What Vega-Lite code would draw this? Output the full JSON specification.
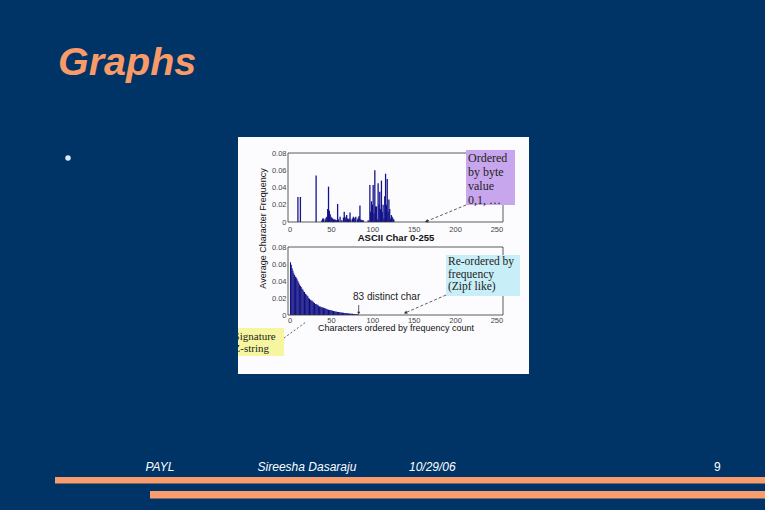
{
  "$schema": "https://vega.github.io/schema/vega-lite/v6.json",
  "background": "#003366",
  "padding": {"left": 55, "top": 42, "right": 0, "bottom": 11},
  "title": {"text": "Graphs", "anchor": "start", "frame": "group", "font": "Liberation Sans", "fontSize": 39.5, "fontWeight": "bold", "fontStyle": "italic", "color": "#F89B68", "offset": 54, "dx": 3},
  "spacing": 81,
  "datasets": {
    "bytes": [
      {"byte": 10, "freq": 0.029}, {"byte": 13, "freq": 0.029}, {"byte": 32, "freq": 0.054},
      {"byte": 39, "freq": 0.002}, {"byte": 40, "freq": 0.004}, {"byte": 41, "freq": 0.004}, {"byte": 43, "freq": 0.003},
      {"byte": 44, "freq": 0.005}, {"byte": 45, "freq": 0.006}, {"byte": 46, "freq": 0.015}, {"byte": 47, "freq": 0.041},
      {"byte": 48, "freq": 0.013}, {"byte": 49, "freq": 0.009}, {"byte": 50, "freq": 0.006}, {"byte": 51, "freq": 0.005},
      {"byte": 52, "freq": 0.004}, {"byte": 53, "freq": 0.003}, {"byte": 54, "freq": 0.003}, {"byte": 55, "freq": 0.003},
      {"byte": 56, "freq": 0.002}, {"byte": 57, "freq": 0.002}, {"byte": 58, "freq": 0.021}, {"byte": 59, "freq": 0.003},
      {"byte": 61, "freq": 0.006}, {"byte": 63, "freq": 0.002}, {"byte": 65, "freq": 0.005}, {"byte": 66, "freq": 0.012},
      {"byte": 67, "freq": 0.006}, {"byte": 68, "freq": 0.004}, {"byte": 69, "freq": 0.008}, {"byte": 70, "freq": 0.004},
      {"byte": 71, "freq": 0.003}, {"byte": 72, "freq": 0.004}, {"byte": 73, "freq": 0.011}, {"byte": 74, "freq": 0.003},
      {"byte": 76, "freq": 0.004}, {"byte": 77, "freq": 0.006}, {"byte": 78, "freq": 0.004}, {"byte": 79, "freq": 0.005},
      {"byte": 80, "freq": 0.006}, {"byte": 82, "freq": 0.003}, {"byte": 83, "freq": 0.005}, {"byte": 84, "freq": 0.007},
      {"byte": 85, "freq": 0.019}, {"byte": 86, "freq": 0.003}, {"byte": 87, "freq": 0.002}, {"byte": 88, "freq": 0.002},
      {"byte": 89, "freq": 0.002}, {"byte": 95, "freq": 0.002},
      {"byte": 97, "freq": 0.043}, {"byte": 98, "freq": 0.012}, {"byte": 99, "freq": 0.024}, {"byte": 100, "freq": 0.02},
      {"byte": 101, "freq": 0.043}, {"byte": 102, "freq": 0.01}, {"byte": 103, "freq": 0.06}, {"byte": 104, "freq": 0.018},
      {"byte": 105, "freq": 0.018}, {"byte": 106, "freq": 0.003}, {"byte": 107, "freq": 0.045}, {"byte": 108, "freq": 0.02},
      {"byte": 109, "freq": 0.035}, {"byte": 110, "freq": 0.015}, {"byte": 111, "freq": 0.048}, {"byte": 112, "freq": 0.012},
      {"byte": 113, "freq": 0.02}, {"byte": 114, "freq": 0.004}, {"byte": 115, "freq": 0.03}, {"byte": 116, "freq": 0.056},
      {"byte": 117, "freq": 0.02}, {"byte": 118, "freq": 0.05}, {"byte": 119, "freq": 0.012}, {"byte": 120, "freq": 0.026},
      {"byte": 121, "freq": 0.015}, {"byte": 122, "freq": 0.004}, {"byte": 123, "freq": 0.008}, {"byte": 124, "freq": 0.006},
      {"byte": 125, "freq": 0.004}, {"byte": 126, "freq": 0.003}
    ],
    "zipf": [
      {"rank": 1, "freq": 0.062}, {"rank": 2, "freq": 0.059}, {"rank": 3, "freq": 0.055}, {"rank": 4, "freq": 0.052},
      {"rank": 5, "freq": 0.049}, {"rank": 6, "freq": 0.047}, {"rank": 7, "freq": 0.045}, {"rank": 8, "freq": 0.044},
      {"rank": 9, "freq": 0.042}, {"rank": 10, "freq": 0.04}, {"rank": 11, "freq": 0.038}, {"rank": 12, "freq": 0.036},
      {"rank": 13, "freq": 0.034}, {"rank": 14, "freq": 0.033}, {"rank": 15, "freq": 0.031}, {"rank": 16, "freq": 0.03},
      {"rank": 17, "freq": 0.028}, {"rank": 18, "freq": 0.027}, {"rank": 19, "freq": 0.025}, {"rank": 20, "freq": 0.024},
      {"rank": 21, "freq": 0.023}, {"rank": 22, "freq": 0.022}, {"rank": 23, "freq": 0.02}, {"rank": 24, "freq": 0.019},
      {"rank": 25, "freq": 0.018}, {"rank": 26, "freq": 0.017}, {"rank": 27, "freq": 0.017}, {"rank": 28, "freq": 0.016},
      {"rank": 29, "freq": 0.015}, {"rank": 30, "freq": 0.014}, {"rank": 31, "freq": 0.013}, {"rank": 32, "freq": 0.013},
      {"rank": 33, "freq": 0.012}, {"rank": 34, "freq": 0.012}, {"rank": 35, "freq": 0.011}, {"rank": 36, "freq": 0.01},
      {"rank": 37, "freq": 0.01}, {"rank": 38, "freq": 0.0095}, {"rank": 39, "freq": 0.009}, {"rank": 40, "freq": 0.0088},
      {"rank": 41, "freq": 0.0085}, {"rank": 42, "freq": 0.008}, {"rank": 43, "freq": 0.0078}, {"rank": 44, "freq": 0.0074},
      {"rank": 45, "freq": 0.007}, {"rank": 46, "freq": 0.0066}, {"rank": 47, "freq": 0.0063}, {"rank": 48, "freq": 0.006},
      {"rank": 49, "freq": 0.0058}, {"rank": 50, "freq": 0.0055}, {"rank": 51, "freq": 0.0053}, {"rank": 52, "freq": 0.005},
      {"rank": 53, "freq": 0.0047}, {"rank": 54, "freq": 0.0045}, {"rank": 55, "freq": 0.0042}, {"rank": 56, "freq": 0.004},
      {"rank": 57, "freq": 0.0038}, {"rank": 58, "freq": 0.0036}, {"rank": 59, "freq": 0.0035}, {"rank": 60, "freq": 0.0033},
      {"rank": 61, "freq": 0.0031}, {"rank": 62, "freq": 0.003}, {"rank": 63, "freq": 0.0028}, {"rank": 64, "freq": 0.0027},
      {"rank": 65, "freq": 0.0026}, {"rank": 66, "freq": 0.0025}, {"rank": 67, "freq": 0.0024}, {"rank": 68, "freq": 0.0023},
      {"rank": 69, "freq": 0.0022}, {"rank": 70, "freq": 0.002}, {"rank": 71, "freq": 0.0019}, {"rank": 72, "freq": 0.0018},
      {"rank": 73, "freq": 0.0017}, {"rank": 74, "freq": 0.0016}, {"rank": 75, "freq": 0.0015}, {"rank": 76, "freq": 0.0014},
      {"rank": 77, "freq": 0.0013}, {"rank": 78, "freq": 0.0012}, {"rank": 79, "freq": 0.0011}, {"rank": 80, "freq": 0.001},
      {"rank": 81, "freq": 0.0009}, {"rank": 82, "freq": 0.0008}, {"rank": 83, "freq": 0.0007}
    ],
    "one": [{}]
  },
  "vconcat": [
    {
      "bounds": "flush",
      "spacing": 157,
      "hconcat": [
        {
          "width": 26,
          "height": 42,
          "data": {"name": "one"},
          "mark": {"type": "circle", "size": 30, "color": "#DCEBFA", "opacity": 1},
          "encoding": {}
        },
        {
          "width": 291,
          "height": 237,
          "view": {"fill": "#FCFCFF", "stroke": null},
          "resolve": {"scale": {"y": "independent"}, "axis": {"x": "independent", "y": "independent"}},
          "layer": [
            {
              "data": {"name": "bytes"},
              "mark": {"type": "bar", "width": 1.3, "color": "#14148A"},
              "encoding": {
                "x": {"field": "byte", "type": "quantitative",
                  "scale": {"domain": [-2, 258], "range": [50, 265], "nice": false, "zero": false, "padding": 0},
                  "axis": {"orient": "bottom", "offset": -152, "values": [0, 50, 100, 150, 200, 250], "labelPadding": 3, "title": "ASCII Char 0-255", "titleFontSize": 9.5, "titleFontWeight": "bold", "titlePadding": 0}},
                "y": {"field": "freq", "type": "quantitative",
                  "scale": {"domain": [0, 0.08], "range": [85, 16], "nice": false, "padding": 0},
                  "axis": {"orient": "left", "offset": -50, "values": [0, 0.02, 0.04, 0.06, 0.08], "format": "~g", "labelPadding": 2,
                    "title": "Average Character Frequency", "titleX": -26, "titleY": 91, "titleAngle": -90, "titleAlign": "center", "titleBaseline": "middle", "titleFontSize": 9, "titleFontWeight": "normal"}}
              }
            },
            {
              "data": {"name": "one"},
              "mark": {"type": "rect", "filled": false, "color": "#333333", "strokeWidth": 0.8},
              "encoding": {"x": {"datum": -2, "axis": null}, "x2": {"datum": 258},
                "y": {"datum": 0, "scale": {"domain": [0, 0.08], "range": [85, 16], "nice": false}, "axis": null}, "y2": {"datum": 0.08}}
            },
            {
              "data": {"name": "one"},
              "mark": {"type": "rect", "color": "#C8A6EE"},
              "encoding": {"x": {"datum": 213.3, "axis": null}, "x2": {"datum": 272.5},
                "y": {"datum": 0.0835, "scale": {"domain": [0, 0.08], "range": [85, 16], "nice": false}, "axis": null}, "y2": {"datum": 0.0197}}
            },
            {
              "data": {"name": "one"},
              "mark": {"type": "text", "text": ["Ordered", "by byte", "value", "0,1, …"], "align": "left", "baseline": "middle", "font": "Liberation Serif", "fontSize": 12, "lineHeight": 14, "color": "#222222"},
              "encoding": {"x": {"datum": 215.7, "axis": null},
                "y": {"datum": 0.0742, "scale": {"domain": [0, 0.08], "range": [85, 16], "nice": false}, "axis": null}}
            },
            {
              "data": {"name": "one"},
              "mark": {"type": "rule", "strokeDash": [3, 2], "color": "#333333", "strokeWidth": 0.8},
              "encoding": {"x": {"datum": 213.3, "axis": null}, "x2": {"datum": 165.5},
                "y": {"datum": 0.0197, "scale": {"domain": [0, 0.08], "range": [85, 16], "nice": false}, "axis": null}, "y2": {"datum": 0.0008}}
            },
            {
              "data": {"name": "one"},
              "mark": {"type": "point", "shape": "triangle-up", "angle": 247, "size": 14, "filled": true, "color": "#333333", "opacity": 1},
              "encoding": {"x": {"datum": 165.5, "axis": null},
                "y": {"datum": 0.0008, "scale": {"domain": [0, 0.08], "range": [85, 16], "nice": false}, "axis": null}}
            },
            {
              "data": {"name": "zipf"},
              "mark": {"type": "bar", "width": 1, "color": "#0C0C80"},
              "encoding": {
                "x": {"field": "rank", "type": "quantitative",
                  "scale": {"domain": [-2, 258], "range": [50, 265], "nice": false, "zero": false, "padding": 0},
                  "axis": {"orient": "bottom", "offset": -59, "values": [0, 50, 100, 150, 200, 250], "labelPadding": 1, "title": "Characters ordered by frequency count", "titleFontSize": 9, "titleFontWeight": "normal", "titlePadding": 0}},
                "y": {"field": "freq", "type": "quantitative",
                  "scale": {"domain": [0, 0.08], "range": [178, 110], "nice": false, "padding": 0},
                  "axis": {"orient": "left", "offset": -50, "values": [0, 0.02, 0.04, 0.06, 0.08], "format": "~g", "labelPadding": 2, "title": null}}
              }
            },
            {
              "data": {"name": "one"},
              "mark": {"type": "rect", "filled": false, "color": "#333333", "strokeWidth": 0.8},
              "encoding": {"x": {"datum": -2, "axis": null}, "x2": {"datum": 258},
                "y": {"datum": 0, "scale": {"domain": [0, 0.08], "range": [178, 110], "nice": false}, "axis": null}, "y2": {"datum": 0.08}}
            },
            {
              "data": {"name": "one"},
              "mark": {"type": "rect", "color": "#C8EEF8"},
              "encoding": {"x": {"datum": 189.1, "axis": null}, "x2": {"datum": 278.6},
                "y": {"datum": 0.0706, "scale": {"domain": [0, 0.08], "range": [178, 110], "nice": false}, "axis": null}, "y2": {"datum": 0.0224}}
            },
            {
              "data": {"name": "one"},
              "mark": {"type": "text", "text": ["Re-ordered by", "frequency", "(Zipf like)"], "align": "left", "baseline": "middle", "font": "Liberation Serif", "fontSize": 11.5, "lineHeight": 12.5, "color": "#222222"},
              "encoding": {"x": {"datum": 191.5, "axis": null},
                "y": {"datum": 0.0622, "scale": {"domain": [0, 0.08], "range": [178, 110], "nice": false}, "axis": null}}
            },
            {
              "data": {"name": "one"},
              "mark": {"type": "rule", "strokeDash": [3, 2], "color": "#333333", "strokeWidth": 0.8},
              "encoding": {"x": {"datum": 189.1, "axis": null}, "x2": {"datum": 140},
                "y": {"datum": 0.0235, "scale": {"domain": [0, 0.08], "range": [178, 110], "nice": false}, "axis": null}, "y2": {"datum": 0.0026}}
            },
            {
              "data": {"name": "one"},
              "mark": {"type": "point", "shape": "triangle-up", "angle": 246, "size": 14, "filled": true, "color": "#333333", "opacity": 1},
              "encoding": {"x": {"datum": 140, "axis": null},
                "y": {"datum": 0.0026, "scale": {"domain": [0, 0.08], "range": [178, 110], "nice": false}, "axis": null}}
            },
            {
              "data": {"name": "one"},
              "mark": {"type": "text", "text": "83  distinct char", "align": "left", "baseline": "middle", "font": "Liberation Sans", "fontSize": 10, "color": "#222222"},
              "encoding": {"x": {"datum": 76.6, "axis": null},
                "y": {"datum": 0.0208, "scale": {"domain": [0, 0.08], "range": [178, 110], "nice": false}, "axis": null}}
            },
            {
              "data": {"name": "one"},
              "mark": {"type": "rule", "color": "#333333", "strokeWidth": 0.8},
              "encoding": {"x": {"datum": 83.5, "axis": null},
                "y": {"datum": 0.0118, "scale": {"domain": [0, 0.08], "range": [178, 110], "nice": false}, "axis": null}, "y2": {"datum": 0.0025}}
            },
            {
              "data": {"name": "one"},
              "mark": {"type": "point", "shape": "triangle-down", "size": 10, "filled": true, "color": "#333333", "opacity": 1},
              "encoding": {"x": {"datum": 83.5, "axis": null},
                "y": {"datum": 0.0022, "scale": {"domain": [0, 0.08], "range": [178, 110], "nice": false}, "axis": null}}
            },
            {
              "data": {"name": "one"},
              "mark": {"type": "rect", "color": "#F6F6A0", "clip": true},
              "encoding": {"x": {"datum": -72, "axis": null}, "x2": {"datum": -6.8},
                "y": {"datum": -0.0153, "scale": {"domain": [0, 0.08], "range": [178, 110], "nice": false}, "axis": null}, "y2": {"datum": -0.0482}}
            },
            {
              "data": {"name": "one"},
              "mark": {"type": "text", "text": ["Signature", "Z-string"], "align": "left", "baseline": "middle", "font": "Liberation Serif", "fontSize": 11, "lineHeight": 12, "color": "#222222", "clip": true},
              "encoding": {"x": {"datum": -67.8, "axis": null},
                "y": {"datum": -0.0253, "scale": {"domain": [0, 0.08], "range": [178, 110], "nice": false}, "axis": null}}
            },
            {
              "data": {"name": "one"},
              "mark": {"type": "rule", "strokeDash": [2, 2], "color": "#333333", "strokeWidth": 0.8},
              "encoding": {"x": {"datum": -6.8, "axis": null}, "x2": {"datum": 19.8},
                "y": {"datum": -0.0271, "scale": {"domain": [0, 0.08], "range": [178, 110], "nice": false}, "axis": null}, "y2": {"datum": -0.0082}}
            }
          ]
        }
      ]
    },
    {
      "width": 710,
      "height": 44,
      "data": {"name": "one"},
      "layer": [
        {
          "mark": {"type": "text", "text": "PAYL", "align": "left", "baseline": "middle", "font": "Liberation Sans", "fontSize": 12, "fontStyle": "italic", "color": "#FFFFFF"},
          "encoding": {
            "x": {"datum": 90.5, "scale": {"domain": [0, 710], "nice": false}, "axis": null},
            "y": {"datum": 11.5, "scale": {"domain": [0, 44], "range": [0, 44], "nice": false}, "axis": null}
          }
        },
        {
          "mark": {"type": "text", "text": "Sireesha Dasaraju", "align": "left", "baseline": "middle", "font": "Liberation Sans", "fontSize": 12, "fontStyle": "italic", "color": "#FFFFFF"},
          "encoding": {"x": {"datum": 202.6, "axis": null}, "y": {"datum": 11.5, "axis": null}}
        },
        {
          "mark": {"type": "text", "text": "10/29/06", "align": "left", "baseline": "middle", "font": "Liberation Sans", "fontSize": 12, "fontStyle": "italic", "color": "#FFFFFF"},
          "encoding": {"x": {"datum": 354, "axis": null}, "y": {"datum": 11.5, "axis": null}}
        },
        {
          "mark": {"type": "text", "text": "9", "align": "left", "baseline": "middle", "font": "Liberation Sans", "fontSize": 12, "color": "#FFFFFF"},
          "encoding": {"x": {"datum": 659, "axis": null}, "y": {"datum": 11.5, "axis": null}}
        },
        {
          "mark": {"type": "rect", "color": "#F99D6E"},
          "encoding": {"x": {"datum": 0, "axis": null}, "x2": {"datum": 710}, "y": {"datum": 22, "axis": null}, "y2": {"datum": 28.5}}
        },
        {
          "mark": {"type": "rect", "color": "#F99D6E"},
          "encoding": {"x": {"datum": 95, "axis": null}, "x2": {"datum": 710}, "y": {"datum": 36, "axis": null}, "y2": {"datum": 43.5}}
        }
      ]
    }
  ],
  "config": {
    "view": {"stroke": null},
    "axis": {"grid": false, "ticks": false, "domain": false, "labelFlush": false, "labelFont": "Liberation Sans", "labelFontSize": 7.5, "labelColor": "#444444", "titleFont": "Liberation Sans", "titleColor": "#111111"}
  }
}
